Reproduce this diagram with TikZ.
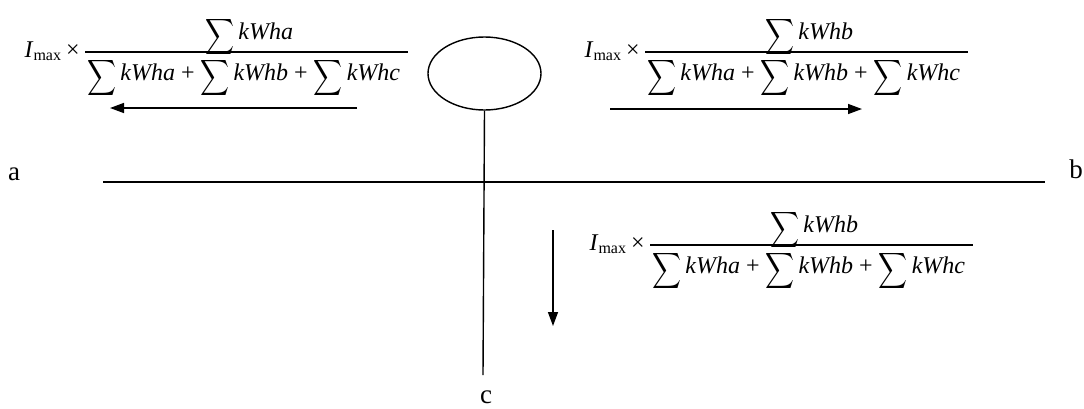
\documentclass[tikz,border=0pt]{standalone}
\usepackage{fontspec}
\setmainfont{Liberation Serif}
\usepackage{graphicx}
\usetikzlibrary{shapes.geometric,arrows.meta,calc}
\newlength\px
\setlength\px{0.5pt}
\newcommand\BigSum{\raisebox{-18\px}{\resizebox*{29\px}{40\px}{\raisebox{\depth}{$\displaystyle\sum$}}}}
\newcommand\Den{\BigSum\,\textit{kWha} + \BigSum\,\textit{kWhb} + \BigSum\,\textit{kWhc}}
% #1 prefix, #2 bar start x, #3 bar y, #4 numerator letter
\newcommand\LoadFrac[4]{%
  \node[ftxt, anchor=base east] (#1i) at (#2-5,#3+5) {\textit{I}\textsubscript{max}\,×};
  \coordinate (#1l) at (#2,#3);
  \coordinate (#1r) at (#2+323,#3);
  \draw[bar] (#1l) -- (#1r);
  \node[ftxt, anchor=base west] (#1d) at (#2+2,#3+28) {\Den};
  \node[ftxt, anchor=base west] (#1n) at (#2+120,#3-13) {\BigSum\,\textit{kWh#4}};
}
\begin{document}
\begin{tikzpicture}[x=0.5pt,y=-0.5pt,
  ftxt/.style={inner sep=0pt, font=\fontsize{12}{14}\selectfont},
  lbl/.style={inner sep=0pt, font=\fontsize{13.5}{15}\selectfont},
  bar/.style={line width=0.6pt},
  wire/.style={line width=0.7pt},
  flow/.style={line width=0.7pt, -{Triangle[length=7pt,width=5pt]}}]
\useasboundingbox (0,0) rectangle (1084,408);
% formulas
\LoadFrac{fa}{85}{52}{a}
\LoadFrac{fb}{645}{52}{b}
\LoadFrac{fc}{650}{245}{b}
% meter and lines
\node[draw, ellipse, wire, minimum width=113\px, minimum height=73\px, inner sep=0pt] (meter) at (484.5,73.5) {};
\node[lbl, anchor=base] (a) at (14,180) {a};
\node[lbl, anchor=base] (b) at (1076,178) {b};
\node[lbl, anchor=base] (c) at (486,403) {c};
\coordinate (wa) at (103,182);
\coordinate (wb) at (1045,182);
\coordinate (wc) at (483,375);
\draw[wire] (wa) -- (wb);
\draw[wire] (meter.south) -- (wc);
% flow arrows
\coordinate (la1) at (357,108); \coordinate (la2) at (110,108);
\coordinate (ra1) at (610,109); \coordinate (ra2) at (862,109);
\coordinate (da1) at (553,230); \coordinate (da2) at (553,326);
\draw[flow] (la1) -- (la2);
\draw[flow] (ra1) -- (ra2);
\draw[flow] (da1) -- (da2);
\end{tikzpicture}
\end{document}
